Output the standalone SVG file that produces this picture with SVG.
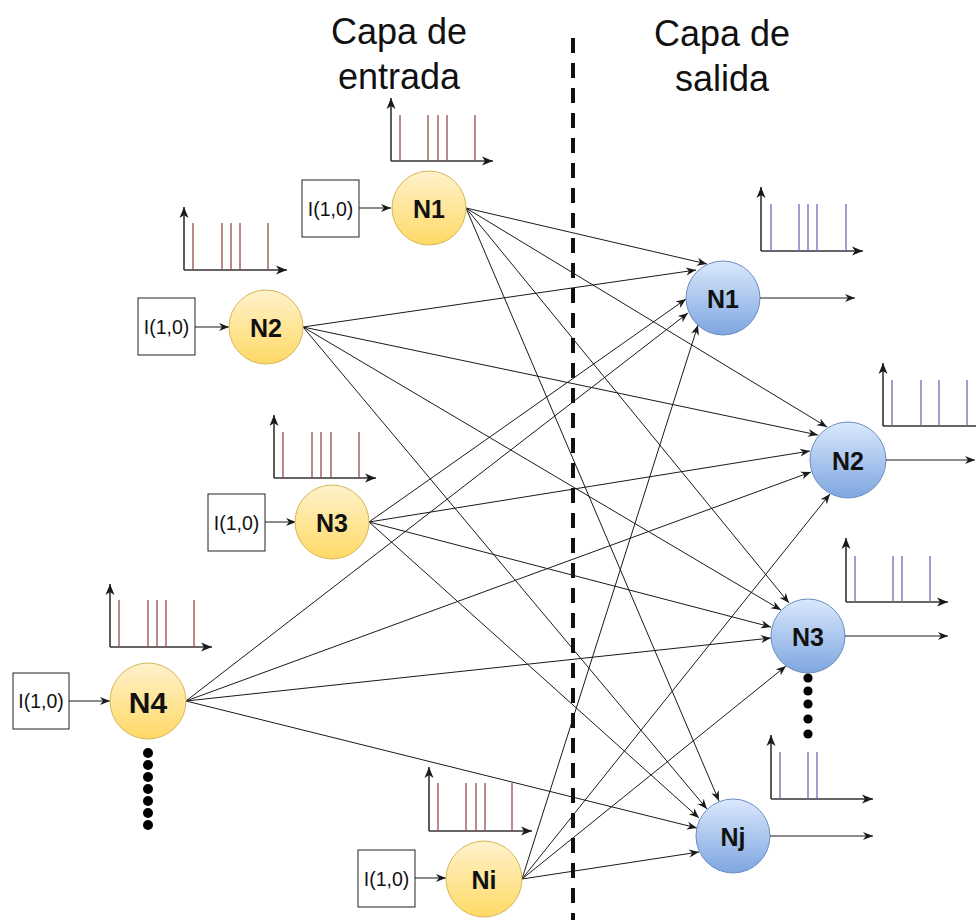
<svg xmlns="http://www.w3.org/2000/svg" width="976" height="920" viewBox="0 0 976 920">
  <defs>
    <linearGradient id="gYellow" x1="0" y1="0" x2="0" y2="1">
      <stop offset="0" stop-color="#fff2cc"/>
      <stop offset="1" stop-color="#ffd966"/>
    </linearGradient>
    <linearGradient id="gBlue" x1="0" y1="0" x2="0" y2="1">
      <stop offset="0" stop-color="#dae8fc"/>
      <stop offset="1" stop-color="#7ea6e0"/>
    </linearGradient>
    <marker id="arr" markerUnits="userSpaceOnUse" markerWidth="11" markerHeight="9" refX="10" refY="4" orient="auto" overflow="visible">
      <path d="M0,0 L10,4 L0,8 L3,4 Z" fill="#1a1a1a"/>
    </marker>
    <marker id="axArr" markerUnits="userSpaceOnUse" markerWidth="12" markerHeight="10" refX="11" refY="4.5" orient="auto" overflow="visible">
      <path d="M0,0 L11,4.5 L0,9 L3,4.5 Z" fill="#1a1a1a"/>
    </marker>
  </defs>
  <style>
    .title { font-family: "Liberation Sans", Arial, sans-serif; font-size: 36px; fill: #111; text-anchor: middle; }
    .link { stroke: #1a1a1a; stroke-width: 1; fill: none; marker-end: url(#arr); }
    .in { fill: url(#gYellow); stroke: #d6b656; stroke-width: 1; }
    .out { fill: url(#gBlue); stroke: #6c8ebf; stroke-width: 1; }
    .lbl { font-family: "Liberation Sans", Arial, sans-serif; font-weight: bold; font-size: 25px; fill: #111; text-anchor: middle; dominant-baseline: central; }
    .box { fill: #fff; stroke: #222; stroke-width: 1; }
    .boxtxt { font-family: "Liberation Sans", Arial, sans-serif; font-size: 19.5px; fill: #111; text-anchor: middle; dominant-baseline: central; }
    .axis { stroke: #333; stroke-width: 1.6; fill: none; marker-end: url(#axArr); }
    .spk-in { stroke: #9a4b4b; stroke-width: 1.3; }
    .spk-out { stroke: #6a6ab8; stroke-width: 1.3; }
    .dot { fill: #000; }
  </style>

  <rect width="976" height="920" fill="#fff"/>

  <!-- layer titles -->
  <text class="title" x="399" y="44">Capa de</text>
  <text class="title" x="399" y="89">entrada</text>
  <text class="title" x="722" y="46">Capa de</text>
  <text class="title" x="722" y="91">salida</text>

  <!-- synapses: every input neuron to every output neuron -->
  <g id="connectors">
    <line class="link" x1="466" y1="208" x2="707" y2="264"/>
    <line class="link" x1="466" y1="208" x2="827" y2="427"/>
    <line class="link" x1="466" y1="208" x2="789" y2="603"/>
    <line class="link" x1="466" y1="208" x2="719" y2="801"/>

    <line class="link" x1="303" y1="327" x2="696" y2="270"/>
    <line class="link" x1="303" y1="327" x2="818" y2="435"/>
    <line class="link" x1="303" y1="327" x2="781" y2="610"/>
    <line class="link" x1="303" y1="327" x2="707" y2="809"/>

    <line class="link" x1="369" y1="522" x2="686" y2="299"/>
    <line class="link" x1="369" y1="522" x2="810" y2="451"/>
    <line class="link" x1="369" y1="522" x2="771" y2="627"/>
    <line class="link" x1="369" y1="522" x2="699" y2="818"/>

    <line class="link" x1="186" y1="701" x2="688" y2="313"/>
    <line class="link" x1="186" y1="701" x2="811" y2="472"/>
    <line class="link" x1="186" y1="701" x2="771" y2="638"/>
    <line class="link" x1="186" y1="701" x2="697" y2="828"/>

    <line class="link" x1="522" y1="879" x2="698" y2="325"/>
    <line class="link" x1="522" y1="879" x2="830" y2="494"/>
    <line class="link" x1="522" y1="879" x2="786" y2="666"/>
    <line class="link" x1="522" y1="879" x2="699" y2="852"/>
  </g>

  <!-- separator between layers -->
  <line x1="573" y1="38" x2="573" y2="920" stroke="#111" stroke-width="4" stroke-dasharray="15 10"/>

  <!-- input layer -->
  <g id="in-n1">
    <rect class="box" x="302" y="180" width="57" height="57"/>
    <text class="boxtxt" x="330.5" y="208.5">I(1,0)</text>
    <line class="link" x1="359" y1="208" x2="391" y2="208"/>
    <circle class="in" cx="429" cy="208" r="37"/>
    <text class="lbl" x="429" y="209">N1</text>
    <line class="axis" x1="391" y1="161" x2="391" y2="98"/>
    <line class="axis" x1="391" y1="161" x2="493" y2="161"/>
    <g class="spk-in">
      <line x1="400" y1="161" x2="400" y2="115"/><line x1="428" y1="161" x2="428" y2="115"/>
      <line x1="438" y1="161" x2="438" y2="115"/><line x1="447" y1="161" x2="447" y2="115"/>
      <line x1="475" y1="161" x2="475" y2="115"/>
    </g>
  </g>

  <g id="in-n2">
    <rect class="box" x="138" y="298" width="57" height="57"/>
    <text class="boxtxt" x="166.5" y="326.5">I(1,0)</text>
    <line class="link" x1="195" y1="327" x2="229" y2="327"/>
    <circle class="in" cx="266" cy="327" r="37"/>
    <text class="lbl" x="266" y="328">N2</text>
    <line class="axis" x1="184" y1="270" x2="184" y2="207"/>
    <line class="axis" x1="184" y1="270" x2="287" y2="270"/>
    <g class="spk-in">
      <line x1="193" y1="270" x2="193" y2="223"/><line x1="222" y1="270" x2="222" y2="223"/>
      <line x1="231" y1="270" x2="231" y2="223"/><line x1="240" y1="270" x2="240" y2="223"/>
      <line x1="268" y1="270" x2="268" y2="223"/>
    </g>
  </g>

  <g id="in-n3">
    <rect class="box" x="208" y="494" width="57" height="57"/>
    <text class="boxtxt" x="236.5" y="522.5">I(1,0)</text>
    <line class="link" x1="265" y1="522" x2="296" y2="522"/>
    <circle class="in" cx="332" cy="522" r="37"/>
    <text class="lbl" x="332" y="523">N3</text>
    <line class="axis" x1="274" y1="478" x2="274" y2="415"/>
    <line class="axis" x1="274" y1="478" x2="376" y2="478"/>
    <g class="spk-in">
      <line x1="283" y1="478" x2="283" y2="432"/><line x1="312" y1="478" x2="312" y2="432"/>
      <line x1="321" y1="478" x2="321" y2="432"/><line x1="331" y1="478" x2="331" y2="432"/>
      <line x1="359" y1="478" x2="359" y2="432"/>
    </g>
  </g>

  <g id="in-n4">
    <rect class="box" x="13" y="673" width="56" height="56"/>
    <text class="boxtxt" x="41" y="701">I(1,0)</text>
    <line class="link" x1="69" y1="701" x2="110" y2="701"/>
    <circle class="in" cx="148" cy="701" r="38"/>
    <text class="lbl" x="148" y="702" style="font-size:30px">N4</text>
    <line class="axis" x1="110" y1="647" x2="110" y2="584"/>
    <line class="axis" x1="110" y1="647" x2="212" y2="647"/>
    <g class="spk-in">
      <line x1="119" y1="647" x2="119" y2="600"/><line x1="148" y1="647" x2="148" y2="600"/>
      <line x1="157" y1="647" x2="157" y2="600"/><line x1="166" y1="647" x2="166" y2="600"/>
      <line x1="194" y1="647" x2="194" y2="600"/>
    </g>
    <g class="dot">
      <circle cx="148" cy="753" r="5"/><circle cx="148" cy="765" r="5"/>
      <circle cx="148" cy="777" r="5"/><circle cx="148" cy="789" r="5"/>
      <circle cx="148" cy="801" r="5"/><circle cx="148" cy="813" r="5"/>
      <circle cx="148" cy="825" r="5"/>
    </g>
  </g>

  <g id="in-ni">
    <rect class="box" x="358" y="850" width="57" height="57"/>
    <text class="boxtxt" x="386.5" y="878.5">I(1,0)</text>
    <line class="link" x1="415" y1="878" x2="446" y2="878"/>
    <circle class="in" cx="484" cy="879" r="38"/>
    <text class="lbl" x="484" y="880">Ni</text>
    <line class="axis" x1="429" y1="831" x2="429" y2="767"/>
    <line class="axis" x1="429" y1="831" x2="532" y2="831"/>
    <g class="spk-in">
      <line x1="438" y1="831" x2="438" y2="783"/><line x1="466" y1="831" x2="466" y2="783"/>
      <line x1="476" y1="831" x2="476" y2="783"/><line x1="485" y1="831" x2="485" y2="783"/>
      <line x1="512" y1="831" x2="512" y2="783"/>
    </g>
  </g>

  <!-- output layer -->
  <g id="out-n1">
    <circle class="out" cx="723" cy="298" r="37"/>
    <text class="lbl" x="723" y="299">N1</text>
    <line class="link" x1="760" y1="298" x2="855" y2="298"/>
    <line class="axis" x1="761" y1="251" x2="761" y2="187"/>
    <line class="axis" x1="761" y1="251" x2="863" y2="251"/>
    <g class="spk-out">
      <line x1="771" y1="251" x2="771" y2="204"/><line x1="799" y1="251" x2="799" y2="204"/>
      <line x1="808" y1="251" x2="808" y2="204"/><line x1="817" y1="251" x2="817" y2="204"/>
      <line x1="846" y1="251" x2="846" y2="204"/>
    </g>
  </g>

  <g id="out-n2">
    <circle class="out" cx="848" cy="460" r="38"/>
    <text class="lbl" x="848" y="461">N2</text>
    <line class="link" x1="886" y1="460" x2="975" y2="460"/>
    <line class="axis" x1="883" y1="426" x2="883" y2="363"/>
    <line x1="883" y1="426" x2="976" y2="426" stroke="#333" stroke-width="1.6"/>
    <g class="spk-out">
      <line x1="892" y1="426" x2="892" y2="380"/><line x1="921" y1="426" x2="921" y2="380"/>
      <line x1="939" y1="426" x2="939" y2="380"/><line x1="967" y1="426" x2="967" y2="380"/>
    </g>
  </g>

  <g id="out-n3">
    <circle class="out" cx="808" cy="636" r="37"/>
    <text class="lbl" x="808" y="637">N3</text>
    <line class="link" x1="845" y1="636" x2="948" y2="636"/>
    <line class="axis" x1="846" y1="602" x2="846" y2="538"/>
    <line class="axis" x1="846" y1="602" x2="948" y2="602"/>
    <g class="spk-out">
      <line x1="855" y1="602" x2="855" y2="556"/><line x1="893" y1="602" x2="893" y2="556"/>
      <line x1="902" y1="602" x2="902" y2="556"/><line x1="930" y1="602" x2="930" y2="556"/>
    </g>
    <g class="dot">
      <circle cx="808" cy="678" r="4.6"/><circle cx="808" cy="691" r="4.6"/>
      <circle cx="808" cy="704" r="4.6"/><circle cx="808" cy="719" r="4.6"/>
      <circle cx="808" cy="734" r="4.6"/>
    </g>
  </g>

  <g id="out-nj">
    <circle class="out" cx="733" cy="836" r="37"/>
    <text class="lbl" x="733" y="837">Nj</text>
    <line class="link" x1="770" y1="836" x2="873" y2="836"/>
    <line class="axis" x1="771" y1="799" x2="771" y2="735"/>
    <line class="axis" x1="771" y1="799" x2="873" y2="799"/>
    <g class="spk-out">
      <line x1="780" y1="799" x2="780" y2="752"/><line x1="808" y1="799" x2="808" y2="752"/>
      <line x1="817" y1="799" x2="817" y2="752"/>
    </g>
  </g>
</svg>
